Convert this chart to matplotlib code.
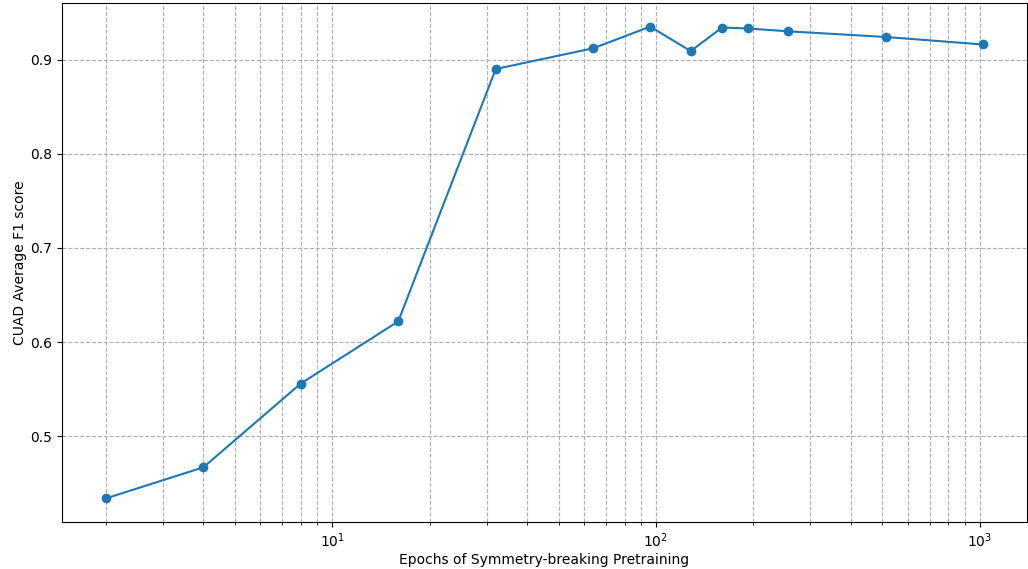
import matplotlib
matplotlib.use("Agg")
import matplotlib.pyplot as plt

# Pretraining epochs and resulting CUAD scores
epochs = [2, 4, 8, 16, 32, 64, 96, 128, 160, 192, 256, 512, 1024]
f1_scores = [0.434, 0.467, 0.556, 0.622, 0.890, 0.912, 0.935, 0.909,
             0.934, 0.933, 0.930, 0.924, 0.916]

fig, ax = plt.subplots(figsize=(10.28, 5.69), dpi=100)
ax.plot(epochs, f1_scores, marker='o')
ax.set_xscale('log')
ax.set_xlabel("Epochs of Symmetry-breaking Pretraining", labelpad=2)
ax.set_ylabel("CUAD Average F1 score", labelpad=2)
ax.grid(True, which='both', linestyle='--')
fig.subplots_adjust(left=0.0603, right=0.999, top=0.9947, bottom=0.0826)
plt.savefig("out.png")
plt.close()
